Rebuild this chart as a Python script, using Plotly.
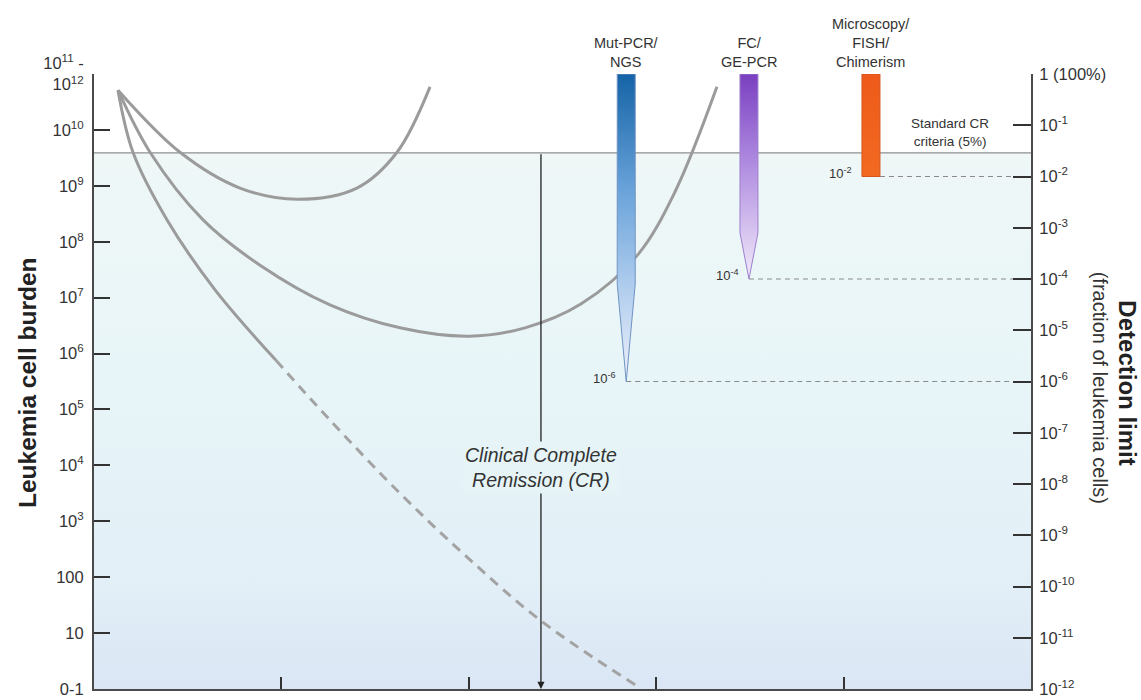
import numpy as np
import plotly.graph_objects as go

FONT = "Liberation Sans, Arial, sans-serif"

# ---- Axes -------------------------------------------------------------
# Time runs over 0..5 arbitrary units; only unlabeled ticks are shown
time_ticks = [1, 2, 3, 4]

burden_tickvals = [1, 10, 100, 1e3, 1e4, 1e5, 1e6, 1e7, 1e8, 1e9, 1e10, 1e11]
burden_ticktext = ["0-1", "10", "100", "10<sup>3</sup>", "10<sup>4</sup>", "10<sup>5</sup>",
                   "10<sup>6</sup>", "10<sup>7</sup>", "10<sup>8</sup>", "10<sup>9</sup>",
                   "10<sup>10</sup>", "10<sup>11</sup> -<br>10<sup>12</sup>"]

detect_tickvals = [1e-12, 1e-11, 1e-10, 1e-9, 1e-8, 1e-7, 1e-6, 1e-5, 1e-4, 1e-3, 1e-2, 1e-1, 1]
detect_ticktext = ["10<sup>-12</sup>", "10<sup>-11</sup>", "10<sup>-10</sup>", "10<sup>-9</sup>",
                   "10<sup>-8</sup>", "10<sup>-7</sup>", "10<sup>-6</sup>", "10<sup>-5</sup>",
                   "10<sup>-4</sup>", "10<sup>-3</sup>", "10<sup>-2</sup>", "10<sup>-1</sup>",
                   "1 (100%)"]

# ---- Disease courses (time, log10 leukemia cell burden) -----------------
early_relapse_t = [0.128, 0.459, 0.779, 1.083, 1.403, 1.617, 1.793]
early_relapse_log = [10.71, 9.60, 8.96, 8.76, 8.96, 9.60, 10.77]

late_relapse_t = [0.128, 0.299, 0.582, 0.886, 1.259, 1.633, 2.0, 2.3, 2.6, 2.9, 3.1, 3.324]
late_relapse_log = [10.71, 9.60, 8.39, 7.58, 6.87, 6.46, 6.31, 6.46, 6.89, 7.76, 8.89, 10.77]

cure_t = [0.128, 0.208, 0.390, 0.646, 0.971]
cure_log = [10.71, 9.60, 8.39, 7.14, 5.88]
cure_below_t = [0.971, 1.259, 1.633, 1.974, 2.385, 2.914]
cure_below_log = [5.88, 4.81, 3.50, 2.41, 1.22, 0.02]

# Clinical CR threshold and time of CR assessment
cr_threshold_log = 9.59
cr_time = 2.385

# ---- MRD detection methods ---------------------------------------------
methods = ["Mut-PCR/<br>NGS", "FC/<br>GE-PCR", "Microscopy/<br>FISH/<br>Chimerism"]
method_t = [2.84, 3.495, 4.146]
method_limit_log = [-6, -4, -2]
method_taper_log = [-4.1, -3.1, -2]
method_limit_text = ["10<sup>-6</sup>", "10<sup>-4</sup>", "10<sup>-2</sup>"]
method_colorscales = [
    [[0, "#eef2fa"], [0.33, "#abcaec"], [0.62, "#6aa3da"], [1, "#1463a6"]],
    [[0, "#f1eafa"], [0.22, "#d8c6f0"], [0.6, "#ab85de"], [1, "#7a3fc0"]],
    [[0, "#f26a22"], [1, "#ee5a1a"]],
]
method_outline = ["#6f93c4", "#9c80cc", "#d4561c"]
bar_half = 0.048

fig = go.Figure()

# Remission zone background below the CR threshold
fig.add_trace(go.Scatter(
    x=[0, 5, 5, 0, 0], y=[1, 1, 10 ** cr_threshold_log, 10 ** cr_threshold_log, 1],
    fill="toself", mode="none", hoverinfo="skip", showlegend=False,
    fillgradient=dict(type="vertical",
                      colorscale=[[0, "#dae6f4"], [0.2, "#e2eff7"], [0.55, "#e7f5f8"], [1, "#eff7f7"]]),
))

# CR threshold line
fig.add_trace(go.Scatter(
    x=[0, 5], y=[10 ** cr_threshold_log] * 2, mode="lines",
    line=dict(color="#8f8f8f", width=1.3), hoverinfo="skip", showlegend=False,
))

# Detection limit guide lines to the right axis
for t, lim in zip(method_t, method_limit_log):
    start = t - bar_half if lim == -2 else t
    fig.add_trace(go.Scatter(
        x=[start, 5], y=[10 ** lim] * 2, yaxis="y2", mode="lines",
        line=dict(color="#8a8a8a", width=1.2, dash="5px,4px"),
        hoverinfo="skip", showlegend=False,
    ))

# Method sensitivity bars
for t, lim, tap, cs, oc in zip(method_t, method_limit_log, method_taper_log,
                                method_colorscales, method_outline):
    if tap == lim:
        xs = [t - bar_half, t + bar_half, t + bar_half, t - bar_half, t - bar_half]
        ys = [1, 1, 10 ** lim, 10 ** lim, 1]
    else:
        xs = [t - bar_half, t + bar_half, t + bar_half, t, t - bar_half, t - bar_half]
        ys = [1, 1, 10 ** tap, 10 ** lim, 10 ** tap, 1]
    fig.add_trace(go.Scatter(
        x=xs, y=ys, yaxis="y2", fill="toself", mode="lines",
        line=dict(color=oc, width=1), fillgradient=dict(type="vertical", colorscale=cs),
        hoverinfo="skip", showlegend=False,
    ))

curve_style = dict(color="#9b9b9b", width=3, shape="spline", smoothing=1.0)
for tx, ly in [(early_relapse_t, early_relapse_log), (late_relapse_t, late_relapse_log),
               (cure_t, cure_log)]:
    fig.add_trace(go.Scatter(x=tx, y=10 ** np.array(ly), mode="lines", line=curve_style,
                             hoverinfo="skip", showlegend=False))
fig.add_trace(go.Scatter(
    x=cure_below_t, y=10 ** np.array(cure_below_log), mode="lines",
    line=dict(color="#a3a3a3", width=3, shape="spline", dash="10px,7px"),
    hoverinfo="skip", showlegend=False,
))

annotations = []
# CR arrow
annotations.append(dict(
    x=cr_time, y=0, xref="x", yref="y", ax=cr_time, ay=cr_threshold_log,
    axref="x", ayref="y", text="", showarrow=True, arrowhead=2, arrowsize=1.1,
    arrowwidth=1.3, arrowcolor="#222222",
))
annotations.append(dict(
    x=cr_time, y=3.97, xref="x", yref="y", showarrow=False,
    text="<i>Clinical Complete<br>Remission (CR)</i>", bgcolor="#e6f4f7",
    font=dict(family=FONT, size=19.5, color="#333333"), borderpad=2,
))
# Method names above the bars
for t, name in zip(method_t, methods):
    annotations.append(dict(
        x=t, y=1, xref="x", yref="paper", yanchor="bottom", yshift=2, showarrow=False,
        text=name, font=dict(family=FONT, size=14.5, color="#333333"),
    ))
# Detection limit labels
for t, lim, txt in zip(method_t, method_limit_log, method_limit_text):
    annotations.append(dict(
        x=t - bar_half if lim == -2 else t, y=lim, xref="x", yref="y2",
        xanchor="right", yanchor="middle", xshift=-8, yshift=4, showarrow=False,
        text=txt, font=dict(family=FONT, size=13, color="#333333"),
    ))
annotations.append(dict(
    x=4.568, y=-1.15, xref="x", yref="y2", showarrow=False,
    text="Standard CR<br>criteria (5%)", font=dict(family=FONT, size=13.5, color="#333333"),
))
# Axis titles
annotations.append(dict(
    x=-0.0704, y=0.4976, xref="paper", yref="paper", xanchor="center", yanchor="middle",
    showarrow=False, textangle=-90,
    text="<b>Leukemia cell burden</b>", font=dict(family=FONT, size=24.5, color="#222222"),
))
annotations.append(dict(
    x=1.1035, y=0.497, xref="paper", yref="paper", xanchor="center", yanchor="middle",
    showarrow=False, textangle=90,
    text="<b>Detection limit</b>", font=dict(family=FONT, size=24, color="#222222"),
))
annotations.append(dict(
    x=1.0736, y=0.49, xref="paper", yref="paper", xanchor="center", yanchor="middle",
    showarrow=False, textangle=90,
    text="(fraction of leukemia cells)", font=dict(family=FONT, size=20, color="#333333"),
))

tickfont = dict(family=FONT, size=16.5, color="#333333")
fig.update_layout(
    width=1141, height=700,
    margin=dict(l=94, r=110, t=74, b=11, autoexpand=False),
    paper_bgcolor="white", plot_bgcolor="white",
    showlegend=False,
    annotations=annotations,
    xaxis=dict(range=[0, 5], showgrid=False, zeroline=False, showline=True, automargin=False,
               linecolor="#4a4a4a", linewidth=2, ticks="inside", tickvals=time_ticks,
               ticklen=12, tickwidth=2, tickcolor="#333333", showticklabels=False),
    yaxis=dict(type="log", range=[0, 11], showgrid=False, zeroline=False, showline=True,
               automargin=False, ticklabelstandoff=5,
               linecolor="#4a4a4a", linewidth=2, ticks="inside", ticklen=16, tickwidth=2,
               tickcolor="#333333", tickvals=burden_tickvals, ticktext=burden_ticktext,
               tickfont=tickfont),
    yaxis2=dict(type="log", range=[-12, 0], overlaying="y", side="right", anchor="x",
                automargin=False, ticklabelstandoff=3,
                showgrid=False, zeroline=False, showline=True, linecolor="#4a4a4a",
                linewidth=2, ticks="inside", ticklen=18, tickwidth=2, tickcolor="#333333",
                tickvals=detect_tickvals, ticktext=detect_ticktext, tickfont=tickfont),
)

fig.write_html("out.html")
